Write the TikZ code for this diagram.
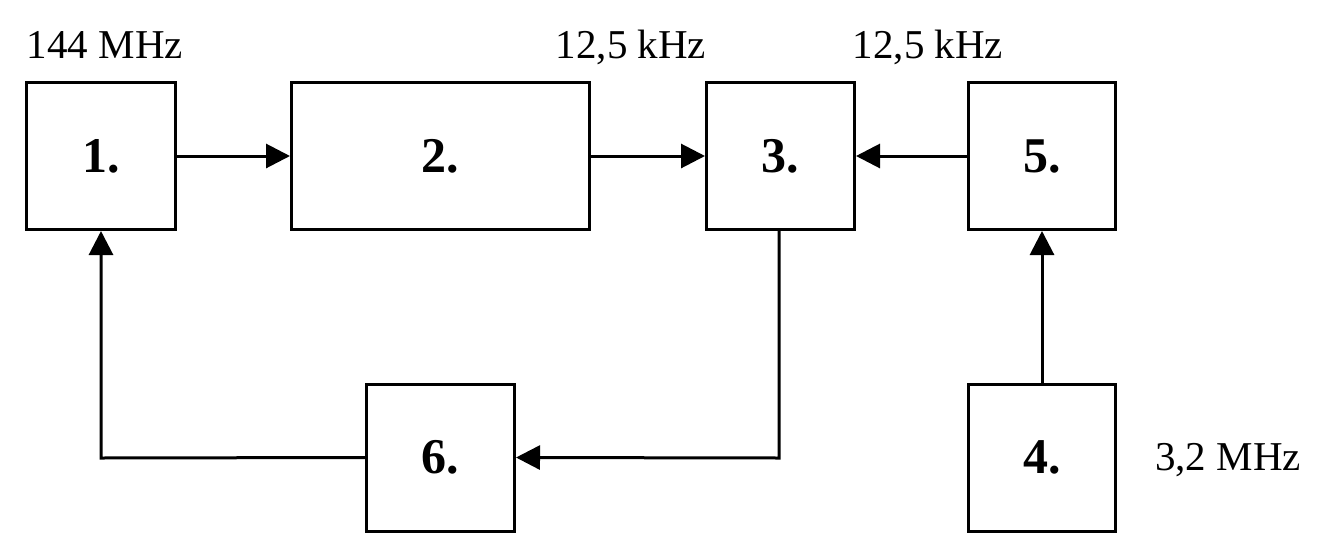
\documentclass[tikz,border=0pt]{standalone}
\usepackage{fontspec}
\setmainfont{Liberation Serif}
\usetikzlibrary{arrows.meta}
\tikzset{
  blk/.style={draw, line width=3pt, minimum height=147pt, inner sep=0pt,
    font=\fontsize{50}{60}\selectfont\bfseries},
  lbl/.style={inner sep=0pt, anchor=base, font=\fontsize{41}{49}\selectfont},
  conn/.style={line width=3pt, -{Triangle[length=24pt,width=24pt]}},
  plain/.style={line width=3pt}
}
\begin{document}
\begin{tikzpicture}[x=1pt,y=-1pt]
\useasboundingbox (0,0) rectangle (1325,541);
\node[blk, minimum width=149pt] (b1) at (101,156) {1.};
\node[blk, minimum width=298pt] (b2) at (440.5,156) {2.};
\node[blk, minimum width=148pt] (b3) at (780.5,156) {3.};
\node[blk, minimum width=147pt] (b5) at (1042,156) {5.};
\node[blk, minimum width=147pt] (b4) at (1042,457.5) {4.};
\node[blk, minimum width=148pt] (b6) at (440.5,457.5) {6.};
\node[lbl] (l1) at (105,58) {144 MHz};
\node[lbl] (l2) at (631,58) {12,5 kHz};
\node[lbl] (l3) at (928,58) {12,5 kHz};
\node[lbl] (l4) at (1228,470) {3,2 MHz};
\coordinate (c1) at (779,458);
\coordinate (c2) at (101,458);
\draw[conn] (b1.east) -- (b2.west);
\draw[conn] (b2.east) -- (b3.west);
\draw[conn] (b5.west) -- (b3.east);
\draw[conn] (b4.north) -- (b5.south);
\draw[conn] (b3.south -| c1) -- (c1) -- (b6.east);
\draw[conn] (b6.west) -- (c2) -- (b1.south);
\end{tikzpicture}
\end{document}
